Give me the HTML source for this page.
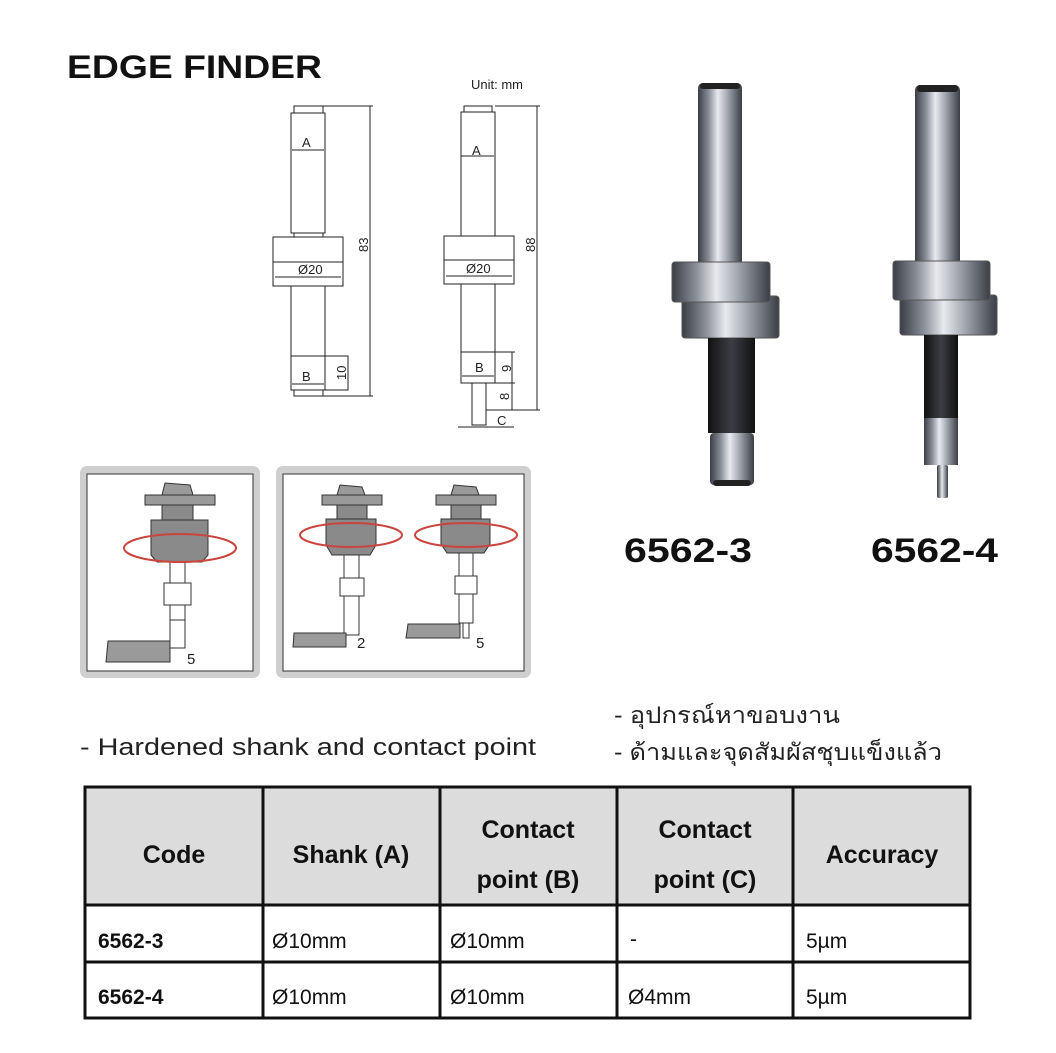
<!DOCTYPE html>
<html><head><meta charset="utf-8"><style>
html,body{margin:0;padding:0;background:#fff}
body{width:1056px;height:1048px;position:relative;overflow:hidden;font-family:"Liberation Sans","Noto Sans CJK SC",sans-serif}
</style></head><body>
<svg width="1056" height="1048" viewBox="0 0 1056 1048" xmlns="http://www.w3.org/2000/svg" font-family="Liberation Sans, sans-serif">
<defs>
<linearGradient id="met" x1="0" x2="1" y1="0" y2="0">
<stop offset="0" stop-color="#3a3d44"/><stop offset="0.25" stop-color="#8c9099"/><stop offset="0.45" stop-color="#e8eaee"/><stop offset="0.65" stop-color="#a9adb5"/><stop offset="1" stop-color="#3a3d44"/>
</linearGradient>
<linearGradient id="blk" x1="0" x2="1"><stop offset="0" stop-color="#111"/><stop offset="0.5" stop-color="#3b3e44"/><stop offset="1" stop-color="#111"/></linearGradient>
</defs>
<text x="67" y="78" font-size="32" font-weight="bold" fill="#111" textLength="255" lengthAdjust="spacingAndGlyphs">EDGE FINDER</text>
<text x="471" y="89" font-size="13" fill="#222">Unit: mm</text>
<g fill="none" stroke="#222" stroke-width="1">
<rect x="294" y="106" width="29" height="7"/>
<rect x="291" y="113" width="34" height="120"/>
<rect x="294" y="233" width="29" height="4"/>
<rect x="273" y="237" width="70" height="49"/>
<line x1="273" y1="262" x2="343" y2="262"/>
<line x1="275" y1="277" x2="341" y2="277"/>
<rect x="291" y="286" width="34" height="70"/>
<rect x="291" y="356" width="34" height="34"/>
<rect x="325" y="356" width="23" height="34"/>
<rect x="294" y="390" width="29" height="6"/>
<line x1="292" y1="150" x2="324" y2="150"/>
<line x1="292" y1="384" x2="324" y2="384"/>
<line x1="323" y1="106" x2="373" y2="106"/><line x1="323" y1="396" x2="373" y2="396"/>
<line x1="370" y1="106" x2="370" y2="396"/>
<rect x="464" y="106" width="28" height="6"/>
<rect x="461" y="112" width="34" height="124"/>
<rect x="444" y="236" width="70" height="48"/>
<line x1="444" y1="260" x2="514" y2="260"/>
<line x1="446" y1="276" x2="512" y2="276"/>
<rect x="461" y="284" width="34" height="68"/>
<rect x="461" y="352" width="34" height="31"/>
<line x1="495" y1="352" x2="515" y2="352"/><line x1="495" y1="383" x2="515" y2="383"/>
<line x1="512" y1="352" x2="512" y2="410"/>
<line x1="486" y1="410" x2="540" y2="410"/>
<rect x="472" y="383" width="14" height="42"/>
<line x1="461" y1="156" x2="494" y2="156"/>
<line x1="462" y1="376" x2="494" y2="376"/>
<line x1="495" y1="106" x2="540" y2="106"/>
<line x1="537" y1="106" x2="537" y2="410"/>
<line x1="458" y1="427" x2="514" y2="427"/>
</g>
<g font-size="13" fill="#222">
<text x="302" y="147">A</text><text x="302" y="381">B</text><text x="298" y="274">Ø20</text>
<text x="472" y="155">A</text><text x="475" y="372">B</text><text x="466" y="273">Ø20</text>
<text x="497" y="425">C</text>
<text transform="translate(368,252) rotate(-90)">83</text>
<text transform="translate(535,252) rotate(-90)">88</text>
<text transform="translate(346,380) rotate(-90)">10</text>
<text transform="translate(511,372) rotate(-90)">9</text>
<text transform="translate(509,400) rotate(-90)">8</text>
</g>
<rect x="80" y="466" width="180" height="212" rx="7" fill="#cfcfcf"/>
<rect x="87" y="474" width="166" height="197" fill="#fff" stroke="#333"/>
<rect x="276" y="466" width="255" height="212" rx="7" fill="#cfcfcf"/>
<rect x="283" y="474" width="241" height="197" fill="#fff" stroke="#333"/>
<g stroke="#333" stroke-width="1">
<rect x="145" y="495" width="70" height="10" fill="#9a9a9a"/>
<path d="M162 495 L165 483 L190 485 L193 495 Z" fill="#9a9a9a"/>
<rect x="162" y="505" width="31" height="15" fill="#8a8a8a"/>
<path d="M151 520 H208 V555 L202 562 H157 L151 555 Z" fill="#8a8a8a"/>
<rect x="170" y="562" width="15" height="58" fill="#fff"/>
<rect x="164" y="583" width="27" height="22" fill="#fff"/>
<rect x="170" y="620" width="15" height="28" fill="#fff"/>
<path d="M108 641 H170 V662 H106 Z" fill="#9a9a9a"/>
</g>
<ellipse cx="180" cy="548" rx="56" ry="14" fill="none" stroke="#c9453e" stroke-width="2"/>
<text x="187" y="664" font-size="15" fill="#222">5</text>
<g stroke="#333" stroke-width="1">
<rect x="322" y="495" width="60" height="10" fill="#9a9a9a"/>
<path d="M337 495 L340 485 L362 487 L365 495 Z" fill="#9a9a9a"/>
<rect x="337" y="505" width="30" height="14" fill="#8a8a8a"/>
<path d="M326 519 H376 V545 L370 555 H332 L326 545 Z" fill="#8a8a8a"/>
<rect x="344" y="555" width="15" height="80" fill="#fff"/>
<rect x="340" y="578" width="24" height="18" fill="#fff"/>
<path d="M294 633 H346 V647 H293 Z" fill="#9a9a9a"/>
<rect x="436" y="495" width="60" height="10" fill="#9a9a9a"/>
<path d="M451 495 L454 485 L476 487 L479 495 Z" fill="#9a9a9a"/>
<rect x="451" y="505" width="30" height="14" fill="#8a8a8a"/>
<path d="M441 519 H490 V544 L484 553 H447 L441 544 Z" fill="#8a8a8a"/>
<rect x="459" y="553" width="14" height="70" fill="#fff"/>
<rect x="455" y="576" width="22" height="18" fill="#fff"/>
<rect x="463" y="623" width="6" height="15" fill="#fff"/>
<path d="M408 624 H460 V638 H406 Z" fill="#9a9a9a"/>
</g>
<ellipse cx="351" cy="535" rx="51" ry="12" fill="none" stroke="#c9453e" stroke-width="2"/>
<ellipse cx="466" cy="535" rx="51" ry="12" fill="none" stroke="#c9453e" stroke-width="2"/>
<text x="357" y="648" font-size="15" fill="#222">2</text>
<text x="476" y="648" font-size="15" fill="#222">5</text>
<rect x="698" y="83" width="44" height="184" rx="5" fill="url(#met)"/>
<rect x="700" y="83" width="40" height="6" rx="3" fill="#222"/>
<rect x="682" y="296" width="97" height="42" rx="3" fill="url(#met)" stroke="#555"/>
<rect x="672" y="262" width="98" height="40" rx="3" fill="url(#met)" stroke="#555"/>
<rect x="708" y="338" width="47" height="95" fill="url(#blk)"/>
<rect x="710" y="433" width="44" height="52" rx="4" fill="url(#met)"/>
<rect x="713" y="480" width="38" height="6" rx="3" fill="#222"/>
<rect x="915" y="85" width="45" height="180" rx="5" fill="url(#met)"/>
<rect x="917" y="85" width="41" height="7" rx="3" fill="#222"/>
<rect x="900" y="295" width="97" height="40" rx="3" fill="url(#met)" stroke="#555"/>
<rect x="893" y="261" width="97" height="39" rx="3" fill="url(#met)" stroke="#555"/>
<rect x="924" y="335" width="34" height="83" fill="url(#blk)"/>
<rect x="924" y="418" width="34" height="47" fill="url(#met)"/>
<rect x="937" y="465" width="11" height="33" rx="2" fill="url(#met)"/>
<text x="624" y="562" font-size="34" font-weight="bold" fill="#111" textLength="128" lengthAdjust="spacingAndGlyphs">6562-3</text>
<text x="871" y="562" font-size="34" font-weight="bold" fill="#111" textLength="127" lengthAdjust="spacingAndGlyphs">6562-4</text>
<text x="80" y="755" font-size="24" fill="#222" textLength="456" lengthAdjust="spacingAndGlyphs">- Hardened shank and contact point</text>
<text x="614" y="723" font-size="23" fill="#222" font-family="Liberation Sans, Noto Sans CJK SC, sans-serif" textLength="226" lengthAdjust="spacingAndGlyphs">- อุปกรณ์หาขอบงาน</text>
<text x="614" y="760" font-size="23" fill="#222" font-family="Liberation Sans, Noto Sans CJK SC, sans-serif" textLength="328" lengthAdjust="spacingAndGlyphs">- ด้ามและจุดสัมผัสชุบแข็งแล้ว</text>
<rect x="85" y="787" width="885" height="118" fill="#dcdcdc"/>
<g stroke="#111" stroke-width="3" fill="none">
<rect x="85" y="787" width="885" height="231"/>
<line x1="85" y1="905" x2="970" y2="905"/>
<line x1="85" y1="962" x2="970" y2="962"/>
<line x1="263" y1="787" x2="263" y2="1018"/>
<line x1="440" y1="787" x2="440" y2="1018"/>
<line x1="617" y1="787" x2="617" y2="1018"/>
<line x1="793" y1="787" x2="793" y2="1018"/>
</g>
<g font-size="25" font-weight="bold" fill="#111" text-anchor="middle">
<text x="174" y="863">Code</text>
<text x="351" y="863">Shank (A)</text>
<text x="528" y="838">Contact</text><text x="528" y="888">point (B)</text>
<text x="705" y="838">Contact</text><text x="705" y="888">point (C)</text>
<text x="882" y="863">Accuracy</text>
</g>
<g font-size="21" fill="#111">
<text x="98" y="948" font-weight="bold">6562-3</text>
<text x="98" y="1004" font-weight="bold">6562-4</text>
<text x="272" y="948">Ø10mm</text><text x="272" y="1004">Ø10mm</text>
<text x="450" y="948">Ø10mm</text><text x="450" y="1004">Ø10mm</text>
<text x="630" y="946">-</text><text x="628" y="1004">Ø4mm</text>
<text x="806" y="948">5µm</text><text x="806" y="1004">5µm</text>
</g>
</svg>
</body></html>
